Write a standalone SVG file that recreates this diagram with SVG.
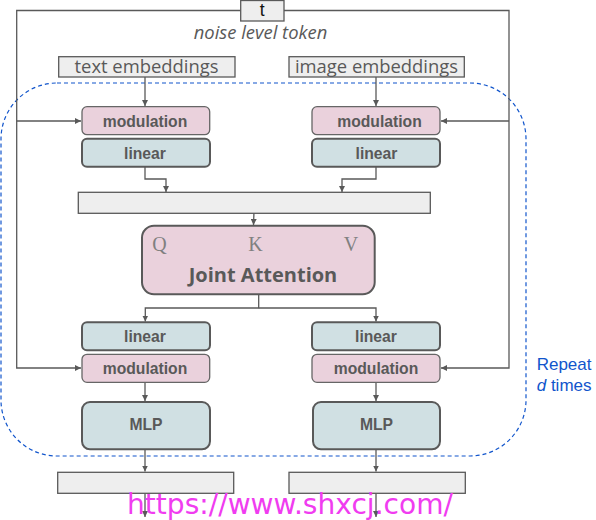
<svg xmlns="http://www.w3.org/2000/svg" width="596" height="520" viewBox="0 0 596 520">
<defs>
<marker id="ah" viewBox="0 0 10 10" refX="10" refY="5" markerWidth="6" markerHeight="6" markerUnits="userSpaceOnUse" orient="auto">
<path d="M0,0 L10,5 L0,10 z" fill="#595959"/>
</marker>
<style>
.ln{fill:none;stroke:#595959;stroke-width:1.3}
.io{fill:#eeeeee;stroke:#595959;stroke-width:1.3}
.mod{fill:#ead1dc;stroke:#666666;stroke-width:1.3}
.lin{fill:#d0e0e3;stroke:#595959;stroke-width:2}
.ja{fill:#ead1dc;stroke:#595959;stroke-width:2}
.bt{font-family:"Liberation Sans",Arial,sans-serif;font-weight:bold;font-size:15.7px;fill:#595959;text-anchor:middle}
.reg{font-family:"Open Sans",sans-serif;font-size:18.4px;fill:#595959;text-anchor:middle}
.qkv{font-family:"Liberation Serif","Times New Roman",serif;font-size:20px;fill:#808080;text-anchor:middle}
.blue{font-family:"Liberation Sans",Arial,sans-serif;font-size:17px;fill:#1155cc}
</style>
</defs>
<rect width="596" height="520" fill="#ffffff"/>

<g id="loop-frame">
<rect x="1" y="83" width="525" height="373" rx="56" ry="56" fill="none" stroke="#1155cc" stroke-width="1.2" stroke-dasharray="4,3"/>
</g>

<g id="connectors">
<path class="ln" d="M240.7,10.5 H16.7 V368 H81" marker-end="url(#ah)"/>
<path class="ln" d="M16.7,121 H81" marker-end="url(#ah)"/>
<path class="ln" d="M284,10.5 H509 V368 H441" marker-end="url(#ah)"/>
<path class="ln" d="M509,121 H441" marker-end="url(#ah)"/>
<path class="ln" d="M145,77 V106" marker-end="url(#ah)"/>
<path class="ln" d="M376,77 V106" marker-end="url(#ah)"/>
<path class="ln" d="M145,167 V179 H166 V192" marker-end="url(#ah)"/>
<path class="ln" d="M376,167 V179 H342 V192" marker-end="url(#ah)"/>
<path class="ln" d="M254.7,192.5 L253.5,225" marker-end="url(#ah)"/>
<path class="ln" d="M258.7,294.5 V308 H145.3 V321.5" marker-end="url(#ah)"/>
<path class="ln" d="M258.7,308 H376 V321.5" marker-end="url(#ah)"/>
<path class="ln" d="M145,382.5 V401" marker-end="url(#ah)"/>
<path class="ln" d="M376,382.5 V401" marker-end="url(#ah)"/>
<path class="ln" d="M145,449.5 V471.5" marker-end="url(#ah)"/>
<path class="ln" d="M376,449.5 V471.5" marker-end="url(#ah)"/>
<path class="ln" d="M145,493.5 V517" marker-end="url(#ah)"/>
<path class="ln" d="M376,493.5 V517" marker-end="url(#ah)"/>
</g>

<g id="t-token">
<rect class="io" x="240.7" y="0.5" width="43.3" height="20.5"/>
<text x="262.3" y="16.3" font-family="Liberation Sans, Arial, sans-serif" font-size="17.5" fill="#111111" text-anchor="middle">t</text>
</g>
<g id="noise-label">
<text x="260.5" y="38.8" font-family="Open Sans, sans-serif" font-size="18.4" font-style="italic" fill="#595959" text-anchor="middle">noise level token</text>
</g>

<g id="text-embeddings">
<rect class="io" x="58.7" y="56.7" width="176.3" height="20.3"/>
<text class="reg" x="146.5" y="73.3">text embeddings</text>
</g>
<g id="image-embeddings">
<rect class="io" x="289" y="56.7" width="175.3" height="20.3"/>
<text class="reg" x="376.5" y="73.3">image embeddings</text>
</g>

<g id="mod-text-top">
<rect class="mod" x="82" y="106.7" width="127.7" height="28" rx="5"/>
<text class="bt" x="145" y="126.5">modulation</text>
</g>
<g id="mod-image-top">
<rect class="mod" x="312" y="106.7" width="128" height="28" rx="5"/>
<text class="bt" x="379.5" y="126.5">modulation</text>
</g>
<g id="lin-text-top">
<rect class="lin" x="82" y="138.7" width="128" height="28" rx="5"/>
<text class="bt" x="145" y="158.5">linear</text>
</g>
<g id="lin-image-top">
<rect class="lin" x="312" y="138.7" width="128" height="28" rx="5"/>
<text class="bt" x="376.5" y="158.5">linear</text>
</g>

<g id="concat">
<rect class="io" x="78.3" y="192.3" width="352" height="21"/>
</g>

<g id="joint-attention">
<rect class="ja" x="142" y="225.7" width="232.7" height="68.6" rx="12"/>
<text class="qkv" x="159.5" y="251">Q</text>
<text class="qkv" x="255.5" y="251">K</text>
<text class="qkv" x="351" y="251">V</text>
<text x="263" y="282" font-family="Open Sans, sans-serif" font-weight="bold" font-size="20" fill="#595959" text-anchor="middle">Joint Attention</text>
</g>

<g id="lin-text-bottom">
<rect class="lin" x="82" y="322.3" width="128" height="28" rx="5"/>
<text class="bt" x="145" y="342">linear</text>
</g>
<g id="lin-image-bottom">
<rect class="lin" x="312" y="322.3" width="128" height="28" rx="5"/>
<text class="bt" x="376" y="342">linear</text>
</g>
<g id="mod-text-bottom">
<rect class="mod" x="82" y="354.3" width="127.7" height="28" rx="5"/>
<text class="bt" x="145" y="374">modulation</text>
</g>
<g id="mod-image-bottom">
<rect class="mod" x="312" y="354.3" width="128" height="28" rx="5"/>
<text class="bt" x="376" y="374">modulation</text>
</g>

<g id="mlp-text">
<rect class="lin" x="82" y="402" width="128" height="47.3" rx="8"/>
<text class="bt" x="146" y="430">MLP</text>
</g>
<g id="mlp-image">
<rect class="lin" x="313" y="402" width="127" height="47.3" rx="8"/>
<text class="bt" x="376.5" y="430">MLP</text>
</g>

<g id="out-text">
<rect class="io" x="57.7" y="472.3" width="176" height="21"/>
</g>
<g id="out-image">
<rect class="io" x="289" y="472.3" width="176.3" height="21"/>
</g>

<g id="repeat-label">
<text class="blue" x="536.7" y="370">Repeat</text>
<text class="blue" x="536.7" y="391"><tspan font-style="italic">d</tspan> times</text>
</g>

<g id="watermark">
<text x="127" y="514" font-family="DejaVu Sans, sans-serif" font-size="27.8" fill="#f03cf0" textLength="326" lengthAdjust="spacingAndGlyphs">https://www.shxcj.com/</text>
</g>
</svg>
